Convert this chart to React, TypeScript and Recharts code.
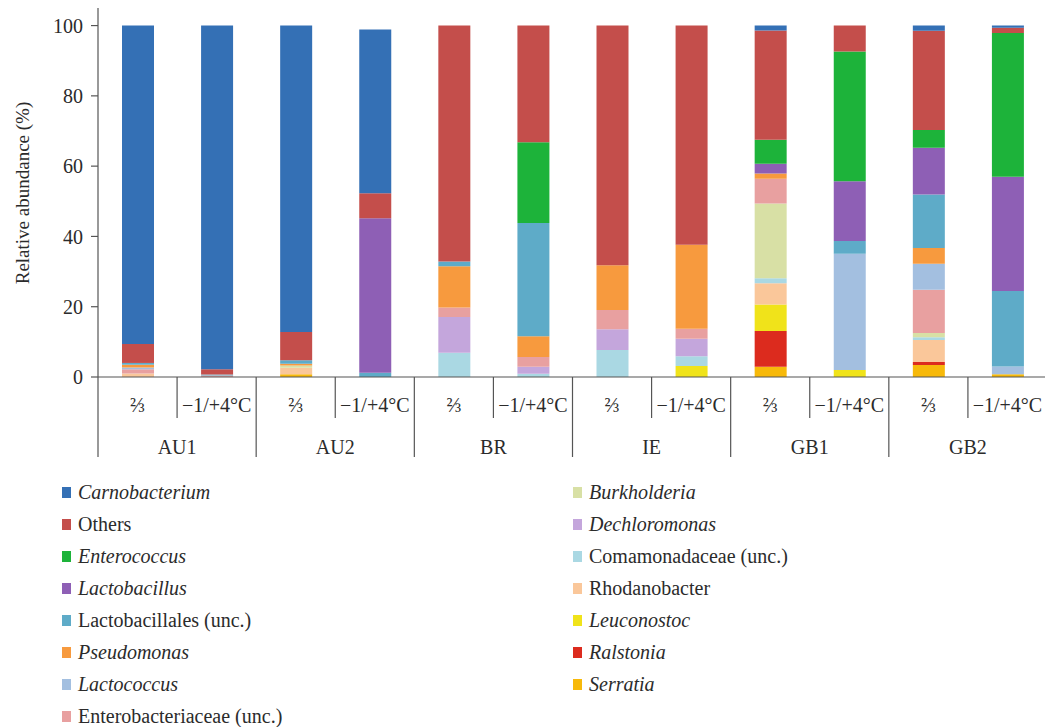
import React from 'react';
import { BarChart, Bar, XAxis, YAxis } from 'recharts';

const groups = ['AU1', 'AU2', 'BR', 'IE', 'GB1', 'GB2'];
const conditions = ['⅔', '−1/+4°C'];
const yTicks = [0, 20, 40, 60, 80, 100];

// one value per bar: AU1 ⅔, AU1 −1/+4, AU2 ⅔, AU2 −1/+4, ... GB2 −1/+4
const carnobacterium = [90.6, 97.8, 87.2, 46.6, 0, 0, 0, 0, 1.4, 0, 1.5, 0.6];
const others = [5.4, 1.5, 8.0, 7.1, 67.1, 33.2, 68.2, 62.4, 31.1, 7.4, 28.2, 1.5];
const enterococcus = [0, 0, 0, 0, 0, 23.0, 0, 0, 6.8, 36.9, 5.1, 40.9];
const lactobacillus = [0, 0, 0, 44.0, 0, 0, 0, 0, 2.8, 17.0, 13.3, 32.5];
const lactobacillales = [0.5, 0.3, 1.0, 1.2, 1.4, 32.2, 0, 0, 0, 3.6, 15.2, 21.5];
const pseudomonas = [0.8, 0, 0.5, 0, 11.7, 5.9, 12.7, 23.9, 1.5, 0, 4.5, 0];
const lactococcus = [0.5, 0, 0, 0, 0, 0, 0, 0, 0, 33.1, 7.4, 2.2];
const enterobacteriaceae = [1.2, 0.4, 0, 0, 2.7, 2.8, 5.5, 2.8, 7.0, 0, 12.3, 0];
const burkholderia = [0, 0, 0.7, 0, 0, 0, 0, 0, 21.3, 0, 1.2, 0];
const dechloromonas = [0, 0, 0, 0, 10.2, 2.0, 5.9, 5.0, 0, 0, 0, 0];
const comamonadaceae = [0, 0, 0, 0, 6.9, 0.9, 7.7, 2.8, 1.4, 0, 0.8, 0];
const rhodanobacter = [1.0, 0, 1.8, 0, 0, 0, 0, 0, 6.1, 0, 6.2, 0];
const leuconostoc = [0, 0, 0, 0, 0, 0, 0, 3.1, 7.5, 2.0, 0, 0];
const ralstonia = [0, 0, 0, 0, 0, 0, 0, 0, 10.2, 0, 0.9, 0];
const serratia = [0, 0, 0.8, 0, 0, 0, 0, 0, 2.9, 0, 3.4, 0.8];

// legend order (top of stack first)
const series = [
  { key: 'carnobacterium', name: 'Carnobacterium', italic: true, color: '#3470b5', values: carnobacterium },
  { key: 'others', name: 'Others', italic: false, color: '#c44e4b', values: others },
  { key: 'enterococcus', name: 'Enterococcus', italic: true, color: '#1db33a', values: enterococcus },
  { key: 'lactobacillus', name: 'Lactobacillus', italic: true, color: '#8e5fb5', values: lactobacillus },
  { key: 'lactobacillales', name: 'Lactobacillales (unc.)', italic: false, color: '#5eabc8', values: lactobacillales },
  { key: 'pseudomonas', name: 'Pseudomonas', italic: true, color: '#f79a3e', values: pseudomonas },
  { key: 'lactococcus', name: 'Lactococcus', italic: true, color: '#a3bfe0', values: lactococcus },
  { key: 'enterobacteriaceae', name: 'Enterobacteriaceae (unc.)', italic: false, color: '#e8a0a0', values: enterobacteriaceae },
  { key: 'burkholderia', name: 'Burkholderia', italic: true, color: '#d8e0a5', values: burkholderia },
  { key: 'dechloromonas', name: 'Dechloromonas', italic: true, color: '#c4a6dc', values: dechloromonas },
  { key: 'comamonadaceae', name: 'Comamonadaceae (unc.)', italic: false, color: '#aad8e3', values: comamonadaceae },
  { key: 'rhodanobacter', name: 'Rhodanobacter', italic: false, color: '#fac79a', values: rhodanobacter },
  { key: 'leuconostoc', name: 'Leuconostoc', italic: true, color: '#f0e31a', values: leuconostoc },
  { key: 'ralstonia', name: 'Ralstonia', italic: true, color: '#dc2b1e', values: ralstonia },
  { key: 'serratia', name: 'Serratia', italic: true, color: '#f7b90a', values: serratia },
];

const data = groups.flatMap((g, gi) =>
  conditions.map((c, ci) => {
    const i = gi * 2 + ci;
    const row: Record<string, any> = { id: `${g}|${c}`, group: g, condition: c };
    series.forEach((s) => {
      row[s.key] = s.values[i];
    });
    return row;
  })
);

const FONT = '"Liberation Serif", "DejaVu Serif", serif';
const CHART_W = 1050;
const CHART_H = 470;
const MARGIN = { top: 8, right: 3, left: 0, bottom: 0 };
const Y_W = 98;
const AXIS_Y = 377;
const X_H = CHART_H - AXIS_Y - MARGIN.bottom;
const BAND = (CHART_W - MARGIN.right - MARGIN.left - Y_W) / data.length;
const AXIS_COLOR = '#555';
const TEXT_COLOR = '#2b2b2b';

const GroupTick = (props: any) => {
  const { x, index } = props;
  const row = data[index];
  if (!row) return null;
  const odd = index % 2 === 1;
  return (
    <g>
      <text x={x} y={AXIS_Y + 35} textAnchor="middle" fontSize={20} fill={TEXT_COLOR} fontFamily={FONT}>
        {row.condition}
      </text>
      {index === 0 && (
        <line x1={x - BAND / 2} x2={x - BAND / 2} y1={AXIS_Y} y2={AXIS_Y + 80} stroke={AXIS_COLOR} strokeWidth={1.2} />
      )}
      <line
        x1={x + BAND / 2}
        x2={x + BAND / 2}
        y1={AXIS_Y}
        y2={odd ? AXIS_Y + 80 : AXIS_Y + 41}
        stroke={AXIS_COLOR}
        strokeWidth={1.2}
      />
      {odd && (
        <text x={x - BAND / 2} y={AXIS_Y + 77} textAnchor="middle" fontSize={20} fill={TEXT_COLOR} fontFamily={FONT}>
          {row.group}
        </text>
      )}
    </g>
  );
};

const legendLeft = series.slice(0, 8);
const legendRight = series.slice(8);

const LegendColumn = ({ items, left }: { items: typeof series; left: number }) => (
  <div style={{ position: 'absolute', left, top: 477 }}>
    {items.map((s) => (
      <div key={s.key} style={{ display: 'flex', alignItems: 'center', height: 31.9 }}>
        <span style={{ display: 'inline-block', width: 9, height: 11, background: s.color, marginRight: 7 }} />
        <span
          style={{
            fontFamily: FONT,
            fontSize: 20,
            color: TEXT_COLOR,
            fontStyle: s.italic ? 'italic' : 'normal',
            whiteSpace: 'nowrap',
          }}
        >
          {s.name}
        </span>
      </div>
    ))}
  </div>
);

export default function App() {
  const stackOrder = [...series].reverse();
  return (
    <div
      style={{
        position: 'absolute',
        left: 0,
        top: 0,
        width: 1045,
        height: 727,
        overflow: 'hidden',
        background: '#fff',
      }}
    >
      <BarChart width={CHART_W} height={CHART_H} data={data} margin={MARGIN} barSize={32}>
        <XAxis
          dataKey="id"
          height={X_H}
          interval={0}
          tickLine={false}
          axisLine={{ stroke: AXIS_COLOR, strokeWidth: 1.2 }}
          tick={<GroupTick />}
        />
        <YAxis
          width={Y_W}
          domain={[0, 105]}
          ticks={yTicks}
          allowDataOverflow
          tickSize={7}
          tickMargin={8}
          tickLine={{ stroke: AXIS_COLOR, strokeWidth: 1.2 }}
          axisLine={{ stroke: AXIS_COLOR, strokeWidth: 1.2 }}
          tick={{ fontSize: 20, fill: TEXT_COLOR, fontFamily: FONT }}
          label={{
            content: () => (
              <text
                x={22}
                y={193}
                transform="rotate(-90 22 193)"
                textAnchor="middle"
                dominantBaseline="central"
                fontSize={19}
                fill={TEXT_COLOR}
                fontFamily={FONT}
              >
                Relative abundance (%)
              </text>
            ),
          }}
        />
        {stackOrder.map((s) => (
          <Bar key={s.key} dataKey={s.key} name={s.name} stackId="a" fill={s.color} isAnimationActive={false} />
        ))}
      </BarChart>
      <LegendColumn items={legendLeft} left={62} />
      <LegendColumn items={legendRight} left={573} />
    </div>
  );
}
